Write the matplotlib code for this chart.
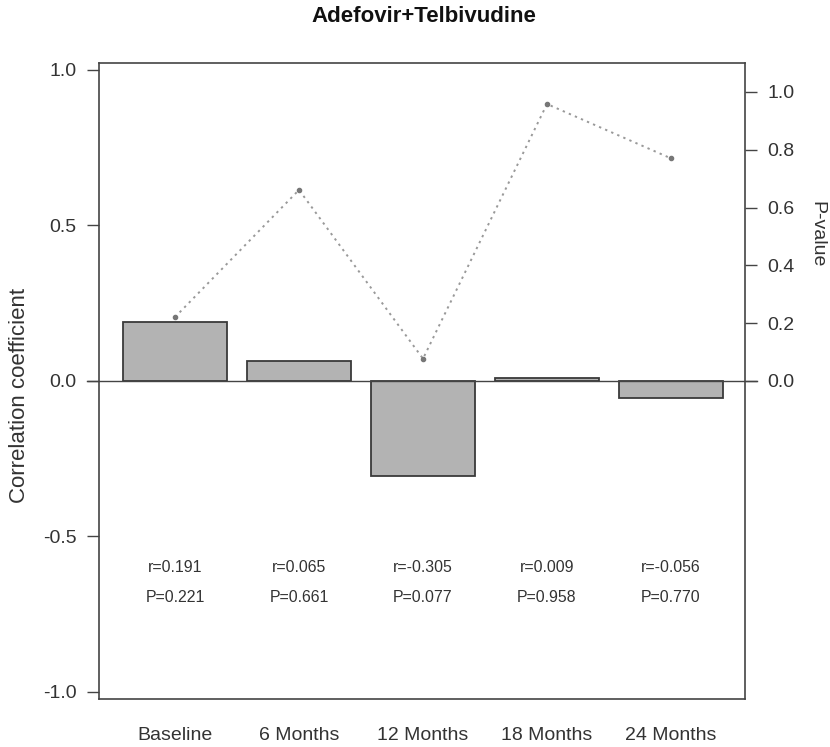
import matplotlib
matplotlib.use("Agg")
import matplotlib.pyplot as plt

groups = ["Baseline", "6 Months", "12 Months", "18 Months", "24 Months"]
r_vals = [0.191, 0.065, -0.305, 0.009, -0.056]
p_vals = [0.221, 0.661, 0.077, 0.958, 0.770]

plt.rcParams['font.family'] = ['Liberation Sans', 'DejaVu Sans']
txt = '#333333'
line = '#444444'

fig = plt.figure(figsize=(8.3, 7.47), dpi=100)
ax = fig.add_axes([0.1193, 0.0643, 0.7783, 0.8514])
x = list(range(len(groups)))

ax.bar(x, r_vals, width=0.839, color='#b3b3b3', edgecolor='#3a3a3a', linewidth=1.3, zorder=2)
ax.axhline(0, color=line, lw=1.0, zorder=3, clip_on=False, xmin=-0.018, xmax=1.018)
ax.set_xlim(-0.613, 4.597)
ax.set_ylim(-1.0225, 1.0225)
ax.set_yticks([-1.0, -0.5, 0.0, 0.5, 1.0])
ax.set_yticklabels(["-1.0", "-0.5", "0.0", "0.5", "1.0"])
ax.set_xticks(x)
ax.set_xticklabels(groups)
ax.tick_params(axis='x', length=0, pad=20, labelsize=14, colors=txt)
ax.tick_params(axis='y', length=8.6, width=1.0, color=line, pad=7.5, labelsize=14, labelcolor=txt)
for s in ax.spines.values():
    s.set_color(line)
    s.set_linewidth(1.2)

for i in x:
    ax.text(i, -0.60, "r=%.3f" % r_vals[i], ha='center', va='center', fontsize=11.4, color=txt)
    ax.text(i, -0.695, "P=%.3f" % p_vals[i], ha='center', va='center', fontsize=11.4, color=txt)

fig.text(19.5 / 830, 1 - 395 / 747, "Correlation coefficient", rotation=90,
         ha='center', va='center', fontsize=16, color=txt)
fig.text(424 / 830, 1 - 17 / 747, "Adefovir+Telbivudine", ha='center', va='center',
         fontsize=16, fontweight='bold', color='#111111')

ax2 = ax.twinx()
ax2.set_ylim(-1.1, 1.1)
ax2.plot(x, p_vals, linestyle=(0, (1.2, 2.2)), color='#999999', lw=1.4, zorder=1)
ax2.plot(x, p_vals, 'o', ms=3, color='#777777', zorder=4)
ax2.set_yticks([0.0, 0.2, 0.4, 0.6, 0.8, 1.0])
ax2.set_yticklabels(["0.0", "0.2", "0.4", "0.6", "0.8", "1.0"])
ax2.tick_params(axis='y', length=8.6, width=1.0, color=line, pad=7.5, labelsize=14, labelcolor=txt)
for s in ax2.spines.values():
    s.set_visible(False)
fig.text(817 / 830, 1 - 234 / 747, "P-value", rotation=-90,
         ha='center', va='center', fontsize=14, color=txt)
ax.set_zorder(ax2.get_zorder() + 1)
ax.patch.set_visible(False)

fig.savefig("out.png", dpi=100, facecolor='white')
